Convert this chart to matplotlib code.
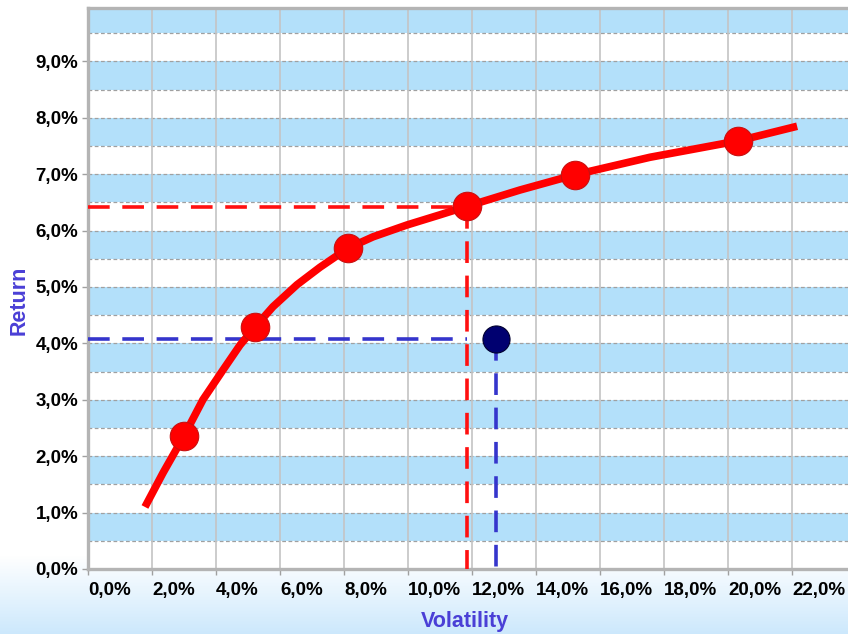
import matplotlib
matplotlib.use("Agg")
import matplotlib.pyplot as plt
import numpy as np

# efficient frontier portfolios (volatility %, return %)
frontier_vol = [3.0, 5.22, 8.13, 11.84, 15.22, 20.31]
frontier_ret = [2.36, 4.29, 5.69, 6.43, 6.99, 7.59]

# frontier curve
curve_vol = [1.78, 2.34, 3.0, 3.59, 4.22, 4.75, 5.22, 5.78, 6.53, 7.25, 8.13,
             8.91, 9.97, 11.0, 11.84, 13.5, 15.22, 17.56, 20.31, 22.16]
curve_ret = [1.10, 1.70, 2.36, 3.0, 3.53, 3.97, 4.29, 4.65, 5.04, 5.35, 5.69,
             5.89, 6.10, 6.28, 6.43, 6.72, 6.99, 7.30, 7.59, 7.85]

# current portfolio and its matching frontier point
current_vol = 12.75
current_ret = 4.08
match_vol = 11.84
match_ret = 6.41

x_ticks = list(range(0, 23, 2))
y_ticks = list(range(0, 10))

W, H = 848, 634
fig = plt.figure(figsize=(W / 100, H / 100), dpi=100)

# background with light blue gradient at the bottom
bg = fig.add_axes([0, 0, 1, 1], zorder=-10)
grad = np.zeros((H, 1))
start = 555
for i in range(start, H):
    grad[i, 0] = (i - start) / (H - start)
top_col = np.array([1.0, 1.0, 1.0])
bot_col = np.array([0.80, 0.91, 0.99])
img = top_col[None, None, :] * (1 - grad[:, :, None]) + bot_col[None, None, :] * grad[:, :, None]
bg.imshow(img, aspect="auto", extent=[0, 1, 0, 1])
bg.axis("off")

ax_left = 88 / W
ax_bottom = (H - 569) / H
ymax = 9.95
ax_height = ymax * 56.4 / H
xmax = 23.75
ax_width = xmax * 32 / W
ax = fig.add_axes([ax_left, ax_bottom, ax_width, ax_height])
ax.set_facecolor("white")
ax.set_xlim(0, xmax)
ax.set_ylim(0, ymax)

band = "#b3e0fa"
for k in range(1, 11):
    ax.axhspan(k - 0.5, k, color=band, lw=0, zorder=0)
for k in np.arange(0.5, 10.01, 0.5):
    ax.axhline(k, color="#a0a0a0", lw=0.9, ls=(0, (3, 2)), zorder=1)
for v in x_ticks[1:]:
    ax.axvline(v, color="#c4c4c4", lw=1.2, zorder=1)

# guide lines
dash = (0, (6, 3.5))
ax.plot([0, match_vol], [match_ret, match_ret], color="#ff1010", lw=2.6, ls=dash, zorder=3)
ax.plot([match_vol, match_vol], [match_ret, 0], color="#ff1010", lw=2.6, ls=dash, zorder=3)
ax.plot([0, match_vol], [current_ret, current_ret], color="#3535cc", lw=2.6, ls=dash, zorder=3)
ax.plot([current_vol, current_vol], [current_ret, 0], color="#3535cc", lw=2.6, ls=dash, zorder=3)

ax.plot(curve_vol, curve_ret, color="#ff0000", lw=5.5, solid_capstyle="butt",
        solid_joinstyle="round", zorder=4)
ax.plot(frontier_vol, frontier_ret, ls="none", marker="o", ms=20.5, mfc="#ff0000",
        mec="#c81010", mew=0.8, zorder=5)
ax.plot([current_vol], [current_ret], ls="none", marker="o", ms=19.5, mfc="#000070",
        mec="#000030", mew=0.8, zorder=5)

for s in ["left", "bottom", "top"]:
    ax.spines[s].set_color("#b4b4b4")
    ax.spines[s].set_linewidth(2.4)
ax.spines["right"].set_visible(False)

ax.set_xticks(x_ticks)
ax.set_xticklabels([f"{v:.1f}%".replace(".", ",") for v in x_ticks], ha="left")
ax.set_yticks(y_ticks)
ax.set_yticklabels([f"{v:.1f}%".replace(".", ",") for v in y_ticks])
ax.tick_params(axis="both", colors="#a0a0a0", length=4, width=1)
for lab in ax.get_xticklabels() + ax.get_yticklabels():
    lab.set_color("black")
    lab.set_fontfamily("Liberation Sans")
    lab.set_fontweight("bold")
    lab.set_fontsize(13.5)
ax.tick_params(axis="x", pad=5)
ax.tick_params(axis="y", pad=3)

fig.text(465 / W, 1 - 621 / H, "Volatility", color="#4a3fd6", fontsize=15.5,
         fontweight="bold", family="Liberation Sans", ha="center", va="center")
fig.text(19 / W, 1 - 300 / H, "Return", color="#4a3fd6", fontsize=15.5,
         fontweight="bold", family="Liberation Sans", ha="center", va="center",
         rotation=90)

fig.savefig("out.png", dpi=100)
